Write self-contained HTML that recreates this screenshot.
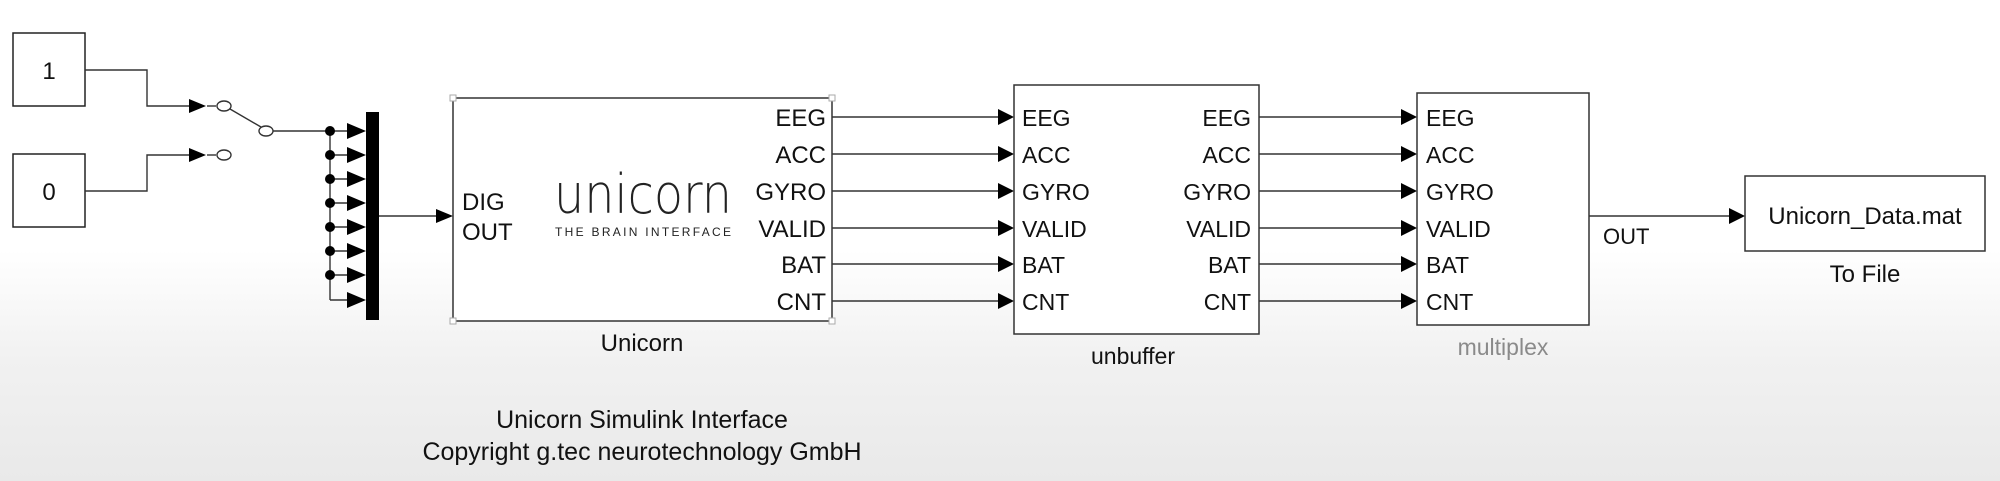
<!DOCTYPE html>
<html><head><meta charset="utf-8"><style>
html,body{margin:0;padding:0;width:2000px;height:481px;overflow:hidden;}
body{background:linear-gradient(to bottom,#ffffff 0px,#ffffff 250px,#f1f1f1 360px,#e9e9e9 481px);}
svg{position:absolute;left:0;top:0;}
text{font-family:"Liberation Sans",Arial,sans-serif;fill:#111;}
</style></head><body>
<svg width="2000" height="481" viewBox="0 0 2000 481">
<g stroke="#222" stroke-width="1.5" fill="none">
<rect x="13" y="33" width="72" height="73" fill="#fff"/>
<rect x="13" y="154" width="72" height="73" fill="#fff"/>
</g>
<text x="49" y="79" font-size="24" text-anchor="middle">1</text>
<text x="49" y="200" font-size="24" text-anchor="middle">0</text>
<g stroke="#333" stroke-width="1.4" fill="none">
<polyline points="85,70 147,70 147,106 189,106"/>
<polyline points="85,191 147,191 147,155 189,155"/>
<line x1="207" y1="106" x2="216" y2="106"/>
<line x1="207" y1="155" x2="216" y2="155"/>
<ellipse cx="224" cy="106" rx="7" ry="5"/>
<ellipse cx="224" cy="155" rx="7" ry="5"/>
<line x1="230" y1="109" x2="261" y2="127"/>
<ellipse cx="266" cy="131" rx="7" ry="5"/>
<line x1="273" y1="131" x2="330" y2="131"/>
<line x1="330" y1="131" x2="330" y2="300"/>
<line x1="330" y1="300" x2="348" y2="300"/>
<line x1="330" y1="131" x2="348" y2="131"/>
<line x1="330" y1="155" x2="348" y2="155"/>
<line x1="330" y1="179" x2="348" y2="179"/>
<line x1="330" y1="203" x2="348" y2="203"/>
<line x1="330" y1="227" x2="348" y2="227"/>
<line x1="330" y1="251" x2="348" y2="251"/>
<line x1="330" y1="275" x2="348" y2="275"/>
<line x1="379" y1="216" x2="436" y2="216"/>
</g>
<g fill="#000">
<path d="M189,99 L206,106 L189,113z"/>
<path d="M189,148 L206,155 L189,162z"/>
<circle cx="330" cy="131" r="5"/><circle cx="330" cy="155" r="5"/><circle cx="330" cy="179" r="5"/><circle cx="330" cy="203" r="5"/><circle cx="330" cy="227" r="5"/><circle cx="330" cy="251" r="5"/><circle cx="330" cy="275" r="5"/>
<path d="M347,123 L366,131 L347,139z"/><path d="M347,147 L366,155 L347,163z"/><path d="M347,171 L366,179 L347,187z"/><path d="M347,195 L366,203 L347,211z"/><path d="M347,219 L366,227 L347,235z"/><path d="M347,243 L366,251 L347,259z"/><path d="M347,267 L366,275 L347,283z"/><path d="M347,292 L366,300 L347,308z"/>
<rect x="366" y="112" width="13" height="208"/>
<path d="M436,209 L453,216 L436,223z"/>
</g>
<rect x="453" y="98" width="379" height="223" fill="#fff" stroke="#333" stroke-width="1.5"/>
<g fill="#fff" stroke="#aaa" stroke-width="1"><rect x="450" y="95" width="6" height="6"/><rect x="829" y="95" width="6" height="6"/><rect x="450" y="318" width="6" height="6"/><rect x="829" y="318" width="6" height="6"/></g>
<g font-size="24" text-anchor="end">
<text x="826" y="126">EEG</text><text x="826" y="163">ACC</text><text x="826" y="200">GYRO</text><text x="826" y="237">VALID</text><text x="826" y="273">BAT</text><text x="826" y="310">CNT</text>
</g>
<text x="462" y="210" font-size="24">DIG</text>
<text x="462" y="240" font-size="24">OUT</text>
<text x="554" y="213" font-size="54" textLength="178" lengthAdjust="spacingAndGlyphs" style="font-family:'DejaVu Sans',sans-serif;font-weight:200;fill:#222">unicorn</text>
<text x="555" y="236" font-size="12" textLength="176" lengthAdjust="spacing" style="fill:#222">THE BRAIN INTERFACE</text>
<text x="642" y="351" font-size="24" text-anchor="middle">Unicorn</text>
<g stroke="#333" stroke-width="1.4">
<line x1="832" y1="117" x2="1000" y2="117"/><line x1="832" y1="154" x2="1000" y2="154"/><line x1="832" y1="191" x2="1000" y2="191"/><line x1="832" y1="228" x2="1000" y2="228"/><line x1="832" y1="264" x2="1000" y2="264"/><line x1="832" y1="301" x2="1000" y2="301"/>
<line x1="1259" y1="117" x2="1402" y2="117"/><line x1="1259" y1="154" x2="1402" y2="154"/><line x1="1259" y1="191" x2="1402" y2="191"/><line x1="1259" y1="228" x2="1402" y2="228"/><line x1="1259" y1="264" x2="1402" y2="264"/><line x1="1259" y1="301" x2="1402" y2="301"/>
<line x1="1589" y1="216" x2="1730" y2="216"/>
</g>
<g fill="#000">
<path d="M998,109 L1014,117 L998,125z"/><path d="M998,146 L1014,154 L998,162z"/><path d="M998,183 L1014,191 L998,199z"/><path d="M998,220 L1014,228 L998,236z"/><path d="M998,256 L1014,264 L998,272z"/><path d="M998,293 L1014,301 L998,309z"/>
<path d="M1401,109 L1417,117 L1401,125z"/><path d="M1401,146 L1417,154 L1401,162z"/><path d="M1401,183 L1417,191 L1401,199z"/><path d="M1401,220 L1417,228 L1401,236z"/><path d="M1401,256 L1417,264 L1401,272z"/><path d="M1401,293 L1417,301 L1401,309z"/>
<path d="M1729,208 L1745,216 L1729,224z"/>
</g>
<rect x="1014" y="85" width="245" height="249" fill="#fff" stroke="#333" stroke-width="1.5"/>
<g font-size="23">
<text x="1022" y="126">EEG</text><text x="1022" y="163">ACC</text><text x="1022" y="200">GYRO</text><text x="1022" y="237">VALID</text><text x="1022" y="273">BAT</text><text x="1022" y="310">CNT</text>
</g>
<g font-size="23" text-anchor="end">
<text x="1251" y="126">EEG</text><text x="1251" y="163">ACC</text><text x="1251" y="200">GYRO</text><text x="1251" y="237">VALID</text><text x="1251" y="273">BAT</text><text x="1251" y="310">CNT</text>
</g>
<text x="1133" y="364" font-size="23" text-anchor="middle">unbuffer</text>
<rect x="1417" y="93" width="172" height="232" fill="#fff" stroke="#333" stroke-width="1.5"/>
<g font-size="23">
<text x="1426" y="126">EEG</text><text x="1426" y="163">ACC</text><text x="1426" y="200">GYRO</text><text x="1426" y="237">VALID</text><text x="1426" y="273">BAT</text><text x="1426" y="310">CNT</text>
</g>
<text x="1503" y="355" font-size="23" text-anchor="middle" style="fill:#8a8a8a">multiplex</text>
<text x="1603" y="244" font-size="22">OUT</text>
<rect x="1745" y="176" width="240" height="75" fill="#fff" stroke="#333" stroke-width="1.5"/>
<text x="1865" y="224" font-size="24" text-anchor="middle">Unicorn_Data.mat</text>
<text x="1865" y="282" font-size="24" text-anchor="middle">To File</text>
<text x="642" y="428" font-size="25" text-anchor="middle">Unicorn Simulink Interface</text>
<text x="642" y="460" font-size="25" text-anchor="middle">Copyright g.tec neurotechnology GmbH</text>
</svg>
</body></html>
